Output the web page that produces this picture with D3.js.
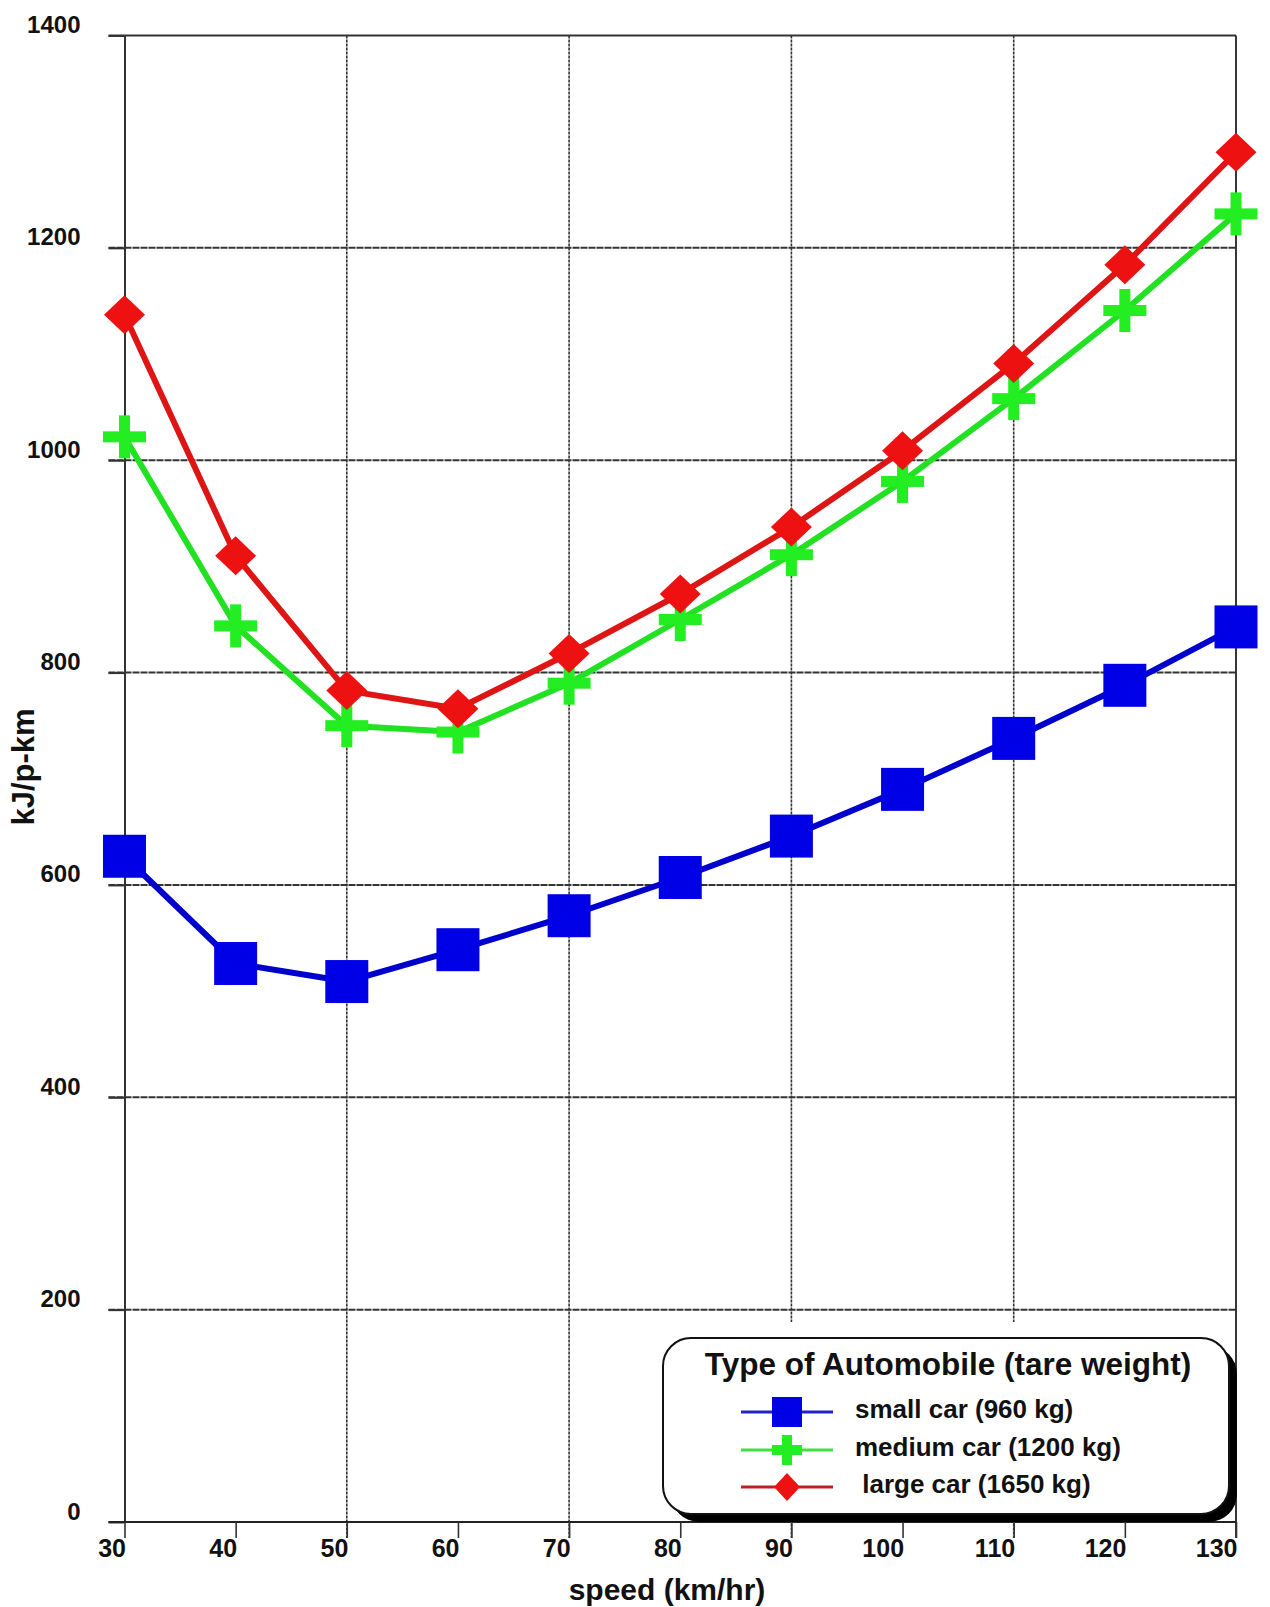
<!DOCTYPE html>
<html>
<head>
<meta charset="utf-8">
<script src="https://cdn.jsdelivr.net/npm/d3@7"></script>
<style>
  html, body { margin: 0; padding: 0; background: #fff; }
  svg { display: block; font-family: "Liberation Sans", Arial, Helvetica, sans-serif; }
  text { font-weight: bold; fill: #111; }
</style>
</head>
<body>
<svg id="chart" width="1270" height="1607"></svg>
<script>
// ---- data ----
const speeds = [30, 40, 50, 60, 70, 80, 90, 100, 110, 120, 130];
const smallCar  = [627, 526, 509, 539, 571, 607, 646, 690, 738, 788, 843];
const mediumCar = [1022, 844, 750, 744, 790, 850, 911, 980, 1058, 1141, 1232];
const largeCar  = [1137, 910, 783, 766, 818, 874, 937, 1009, 1091, 1184, 1290];
const seriesNames = ["small car (960 kg)", "medium car (1200 kg)", " large car (1650 kg)"];
const xTicks = [30, 40, 50, 60, 70, 80, 90, 100, 110, 120, 130];
const xGrid = [50, 70, 90, 110];
const yTicks = [0, 200, 400, 600, 800, 1000, 1200, 1400];
const legendTitle = "Type of Automobile (tare weight)";
const xTitle = "speed (km/hr)";
const yTitle = "kJ/p-km";

const svg = d3.select("#chart");
const L = 124.5, R = 1236, T = 35.5, B = 1522;
const x = d3.scaleLinear().domain([30, 130]).range([L, R]);
const y = d3.scaleLinear().domain([0, 1400]).range([B, T]);

// horizontal gridlines (extend left as ticks)
svg.append("g").selectAll("line").data(yTicks.filter(d => d > 0 && d < 1400)).join("line")
  .attr("x1", L - 16).attr("x2", R).attr("y1", d => y(d)).attr("y2", d => y(d))
  .attr("stroke", "#333").attr("stroke-width", 2).attr("stroke-dasharray", "7,1");
// vertical gridlines
svg.append("g").selectAll("line").data(xGrid).join("line")
  .attr("x1", d => x(d)).attr("x2", d => x(d)).attr("y1", T).attr("y2", B + 16)
  .attr("stroke", "#333").attr("stroke-width", 1.6).attr("stroke-dasharray", "3,1");

// frame (top, right)
svg.append("line").attr("x1", L - 16).attr("x2", R).attr("y1", y(1400)).attr("y2", y(1400))
  .attr("stroke", "#333").attr("stroke-width", 2.2);
svg.append("line").attr("x1", R).attr("x2", R).attr("y1", T).attr("y2", B + 16)
  .attr("stroke", "#222").attr("stroke-width", 1.8);

// axes
const yAxis = d3.axisLeft(y).tickValues(yTicks).tickFormat(d3.format("d"))
  .tickSize(16).tickPadding(28).tickSizeOuter(0);
const gy = svg.append("g").attr("transform", `translate(${L},0)`).call(yAxis);
gy.select(".domain").attr("stroke", "#333").attr("stroke-width", 2);
gy.selectAll(".tick line").attr("stroke", "#333").attr("stroke-width", 2);
gy.selectAll(".tick text").attr("dy", -3).attr("font-size", 24)
  .attr("font-family", "Liberation Sans, Arial, sans-serif").attr("fill", "#111");

const xAxis = d3.axisBottom(x).tickValues(xTicks).tickFormat(d3.format("d")).tickSize(16).tickSizeOuter(0);
const gx = svg.append("g").attr("transform", `translate(0,${B})`).call(xAxis);
gx.select(".domain").attr("stroke", "#222").attr("stroke-width", 2)
  .attr("d", `M${L - 16},0H${R}`);
gx.selectAll(".tick line").attr("stroke", "#333").attr("stroke-width", 1.6);
gx.selectAll(".tick text").attr("y", 35).attr("dy", 0).attr("x", 1)
  .attr("text-anchor", "end").attr("font-size", 25)
  .attr("font-family", "Liberation Sans, Arial, sans-serif").attr("fill", "#111");

// titles
svg.append("text").attr("x", 667).attr("y", 1600).attr("text-anchor", "middle")
  .attr("font-size", 30).text(xTitle);
svg.append("text").attr("transform", "translate(34,767) rotate(-90)").attr("text-anchor", "middle")
  .attr("font-size", 31).text(yTitle);

// series
const series = [
  { vals: smallCar,  line: "#0000cc", fill: "#0000e6", shape: "square" },
  { vals: mediumCar, line: "#22e022", fill: "#22ee22", shape: "cross" },
  { vals: largeCar,  line: "#dd1515", fill: "#ee1111", shape: "diamond" }
];
function marker(g, shape, fill, s) {
  if (shape === "square") {
    g.append("rect").attr("x", -s.sq / 2).attr("y", -s.sq / 2).attr("width", s.sq).attr("height", s.sq).attr("fill", fill);
  } else if (shape === "cross") {
    g.append("rect").attr("x", -s.cl / 2).attr("y", -s.ct / 2).attr("width", s.cl).attr("height", s.ct).attr("fill", fill);
    g.append("rect").attr("x", -s.ct / 2).attr("y", -s.cl / 2).attr("width", s.ct).attr("height", s.cl).attr("fill", fill);
  } else {
    g.append("path").attr("d", `M0,${-s.dh / 2}L${s.dw / 2},0L0,${s.dh / 2}L${-s.dw / 2},0Z`).attr("fill", fill);
  }
}
const big = { sq: 43, cl: 43, ct: 11, dw: 41, dh: 39 };
series.forEach(sr => {
  const pts = speeds.map((s, i) => [s, sr.vals[i]]);
  svg.append("path").datum(pts)
    .attr("d", d3.line().x(d => x(d[0])).y(d => y(d[1])))
    .attr("fill", "none").attr("stroke", sr.line).attr("stroke-width", 6).attr("stroke-linejoin", "round");
  svg.append("g").selectAll("g").data(pts).join("g")
    .attr("transform", d => `translate(${x(d[0])},${y(d[1])})`)
    .each(function () { marker(d3.select(this), sr.shape, sr.fill, big); });
});

// legend
const lg = svg.append("g");
lg.append("rect").attr("x", 648).attr("y", 1322).attr("width", 587).attr("height", 199).attr("fill", "#fff");
lg.append("rect").attr("x", 671).attr("y", 1346).attr("width", 566).attr("height", 176).attr("rx", 28).attr("fill", "#000");
lg.append("rect").attr("x", 663).attr("y", 1338).attr("width", 566).attr("height", 176).attr("rx", 28)
  .attr("fill", "#fff").attr("stroke", "#111").attr("stroke-width", 2);
lg.append("text").attr("x", 948).attr("y", 1375).attr("text-anchor", "middle").attr("font-size", 31.5).text(legendTitle);
const small = { sq: 30, cl: 30, ct: 10, dw: 26, dh: 28 };
const legLine = ["#2222cc", "#44dd44", "#bb2222"];
const legY = [1412, 1450, 1487];
series.forEach((sr, i) => {
  const row = lg.append("g").attr("transform", `translate(787,${legY[i]})`);
  row.append("line").attr("x1", -46).attr("x2", 46).attr("stroke", legLine[i]).attr("stroke-width", 3);
  marker(row, sr.shape, sr.fill, small);
  lg.append("text").attr("x", 855).attr("y", legY[i] + 6).attr("font-size", 26)
    .style("white-space", "pre").text(seriesNames[i]);
});
</script>
</body>
</html>
